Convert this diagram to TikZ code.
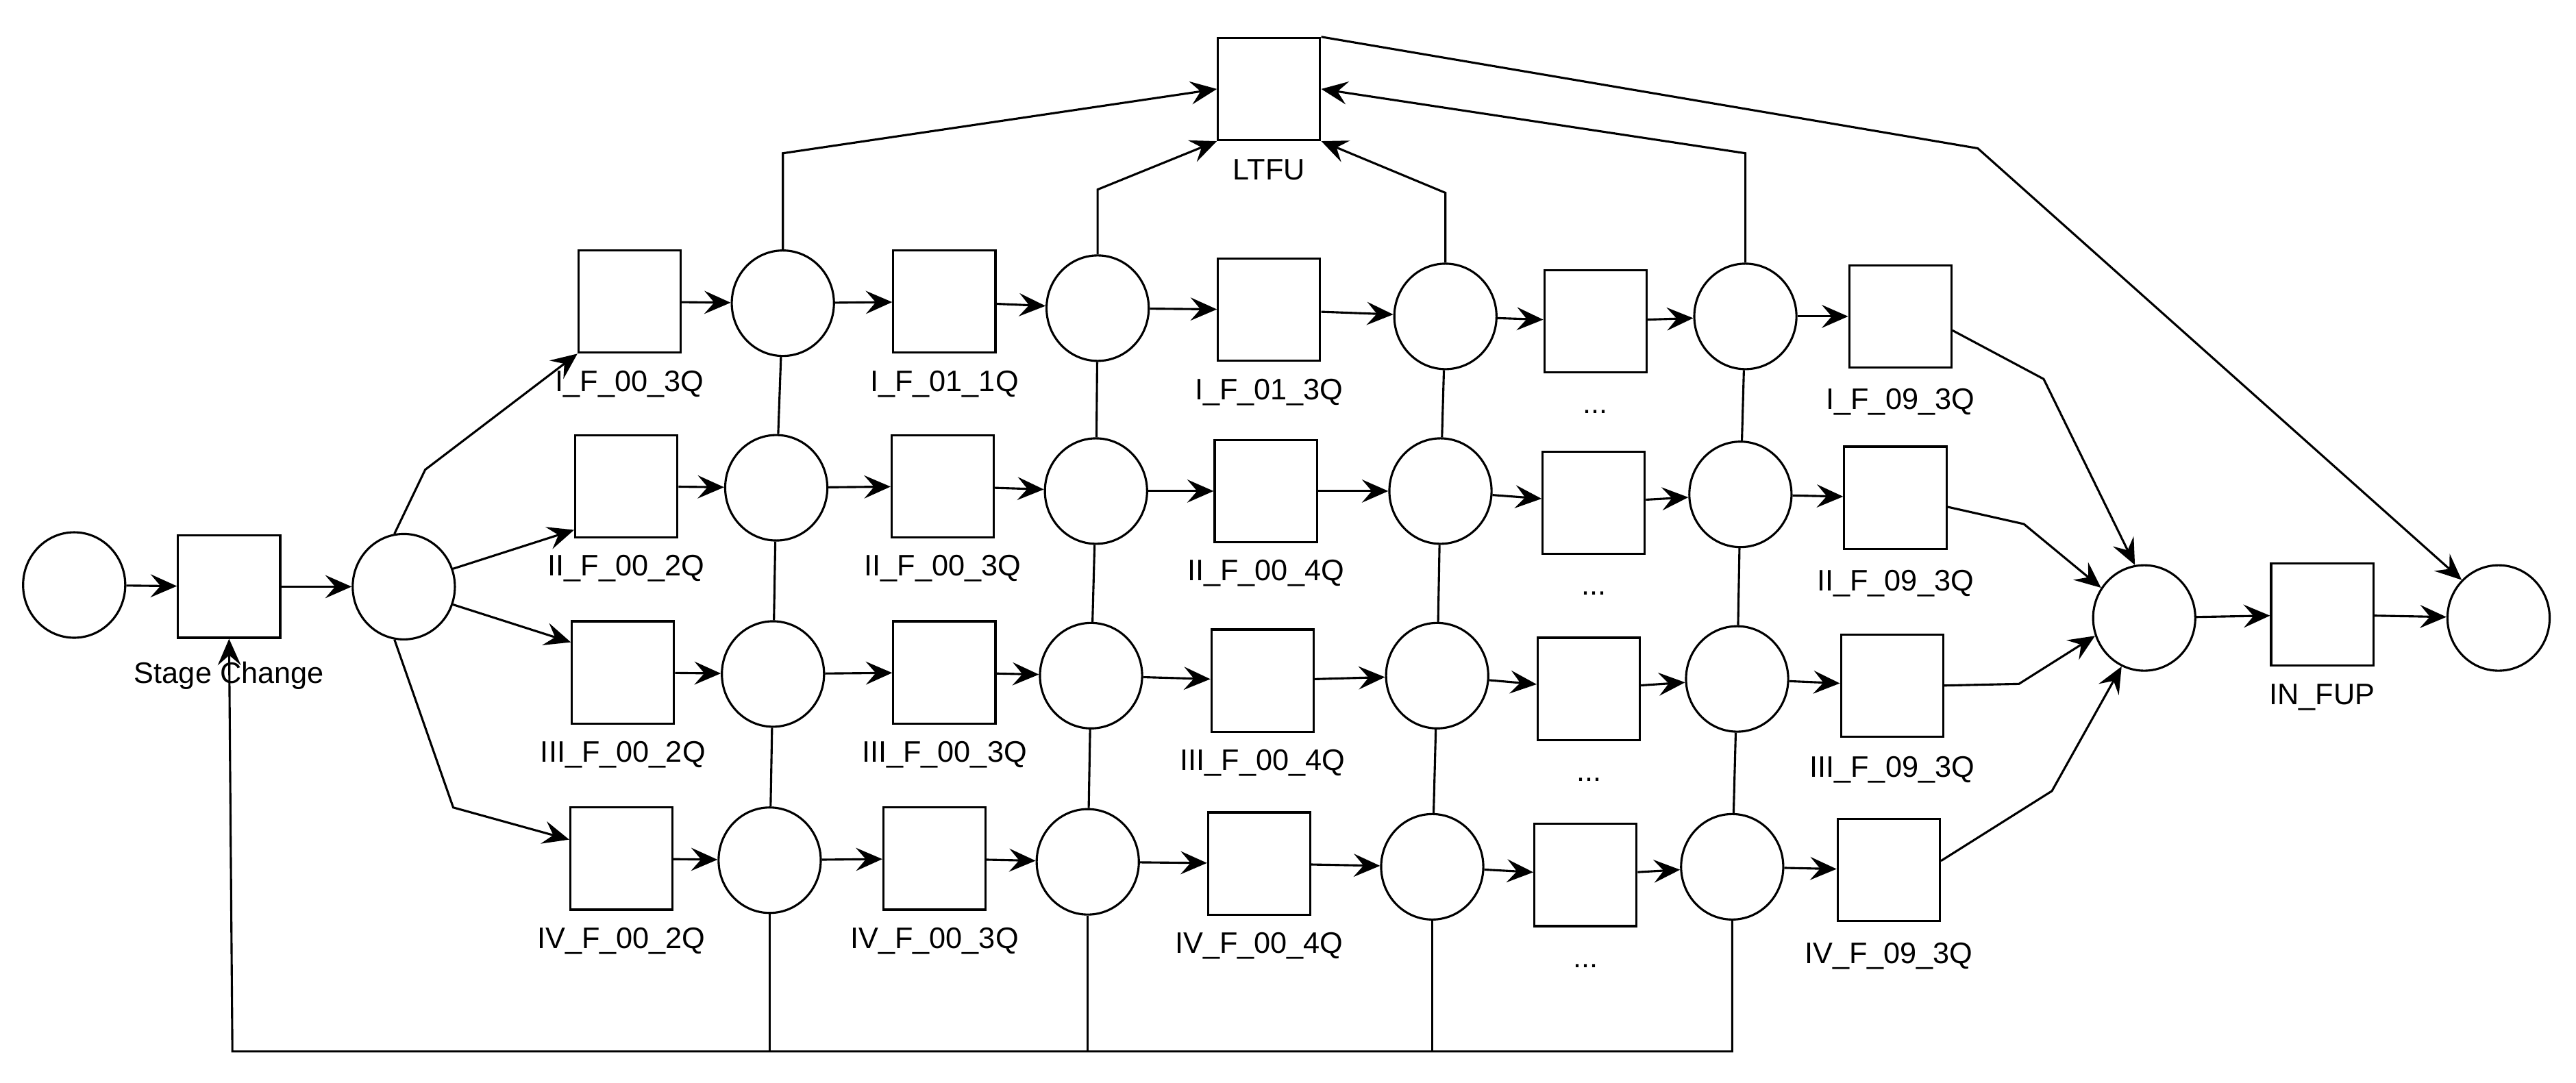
\documentclass[tikz,border=0pt]{standalone}
\usepackage{fontspec}
\setmainfont{Liberation Sans}
\usetikzlibrary{arrows.meta,shapes.geometric}
\begin{document}
\begin{tikzpicture}[x=1pt,y=-1pt,
  tr/.style={draw,line width=1.3pt,minimum width=62pt,minimum height=62pt,inner sep=0pt},
  pl/.style={draw,ellipse,line width=1.3pt,minimum width=62pt,minimum height=64pt,inner sep=0pt},
  lb/.style={font=\fontsize{18}{20}\selectfont},
  ar/.style={line width=1.3pt,-{Stealth[length=16pt,width=14pt,inset=6pt]}},
  ln/.style={line width=1.3pt}]
\useasboundingbox (0,0) rectangle (1563,657);
% start
\node[pl] (s) at (45,355) {};
\node[tr] (sc) at (139,356) {};
\node[lb] at (139,410) {Stage Change};
\node[pl] (p1) at (245,356) {};
% column 1 transitions
\node[tr] (a1) at (382,183) {}; \node[lb] at (382,233) {I\_F\_00\_3Q};
\node[tr] (a2) at (380,295) {}; \node[lb] at (380,345) {II\_F\_00\_2Q};
\node[tr] (a3) at (378,408) {}; \node[lb] at (378,458) {III\_F\_00\_2Q};
\node[tr] (a4) at (377,521) {}; \node[lb] at (377,571) {IV\_F\_00\_2Q};
\node[pl] (b1) at (475,184) {};
\node[pl] (b2) at (471,296) {};
\node[pl] (b3) at (469,409) {};
\node[pl] (b4) at (467,522) {};
\node[tr] (c1) at (573,183) {}; \node[lb] at (573,233) {I\_F\_01\_1Q};
\node[tr] (c2) at (572,295) {}; \node[lb] at (572,345) {II\_F\_00\_3Q};
\node[tr] (c3) at (573,408) {}; \node[lb] at (573,458) {III\_F\_00\_3Q};
\node[tr] (c4) at (567,521) {}; \node[lb] at (567,571) {IV\_F\_00\_3Q};
\node[pl] (d1) at (666,187) {};
\node[pl] (d2) at (665,298) {};
\node[pl] (d3) at (662,410) {};
\node[pl] (d4) at (660,523) {};
\node[tr] (e1) at (770,188) {}; \node[lb] at (770,238) {I\_F\_01\_3Q};
\node[tr] (e2) at (768,298) {}; \node[lb] at (768,348) {II\_F\_00\_4Q};
\node[tr] (e3) at (766,413) {}; \node[lb] at (766,463) {III\_F\_00\_4Q};
\node[tr] (e4) at (764,524) {}; \node[lb] at (764,574) {IV\_F\_00\_4Q};
\node[pl] (f1) at (877,192) {};
\node[pl] (f2) at (874,298) {};
\node[pl] (f3) at (872,410) {};
\node[pl] (f4) at (869,526) {};
\node[tr] (g1) at (968,195) {}; \node[lb] at (968,250) {...};
\node[tr] (g2) at (967,305) {}; \node[lb] at (967,360) {...};
\node[tr] (g3) at (964,418) {}; \node[lb] at (964,473) {...};
\node[tr] (g4) at (962,531) {}; \node[lb] at (962,586) {...};
\node[pl] (h1) at (1059,192) {};
\node[pl] (h2) at (1056,300) {};
\node[pl] (h3) at (1054,412) {};
\node[pl] (h4) at (1051,526) {};
\node[tr] (k1) at (1153,192) {}; \node[lb] at (1153,244) {I\_F\_09\_3Q};
\node[tr] (k2) at (1150,302) {}; \node[lb] at (1150,354) {II\_F\_09\_3Q};
\node[tr] (k3) at (1148,416) {}; \node[lb] at (1148,467) {III\_F\_09\_3Q};
\node[tr] (k4) at (1146,528) {}; \node[lb] at (1146,580) {IV\_F\_09\_3Q};
\node[pl] (m) at (1301,375) {};
\node[tr] (inf) at (1409,373) {}; \node[lb] at (1409,423) {IN\_FUP};
\node[pl] (e) at (1516,375) {};
\node[tr] (lt) at (770,54) {}; \node[lb] at (770,103) {LTFU};
% main arrows
\draw[ar] (s) -- (sc);
\draw[ar] (sc) -- (p1);
\draw[ar] (p1.100) -- (258,285) -- (a1.south west);
\draw[ar] (p1.20) -- (a2.220);
\draw[ar] (p1.-20) -- (a3.150);
\draw[ar] (p1.-100) -- (275,490) -- (a4.160);
\foreach \i in {1,2,3,4}{
  \draw[ar] (a\i) -- (b\i);
  \draw[ar] (b\i) -- (c\i);
  \draw[ar] (c\i) -- (d\i);
  \draw[ar] (d\i) -- (e\i);
  \draw[ar] (e\i) -- (f\i);
  \draw[ar] (f\i) -- (g\i);
  \draw[ar] (g\i) -- (h\i);
  \draw[ar] (h\i) -- (k\i);
}
% vertical links
\draw[ln] (b1) -- (b2); \draw[ln] (b2) -- (b3); \draw[ln] (b3) -- (b4);
\draw[ln] (d1) -- (d2); \draw[ln] (d2) -- (d3); \draw[ln] (d3) -- (d4);
\draw[ln] (f1) -- (f2); \draw[ln] (f2) -- (f3); \draw[ln] (f3) -- (f4);
\draw[ln] (h1) -- (h2); \draw[ln] (h2) -- (h3); \draw[ln] (h3) -- (h4);
% bottom loop
\coordinate (bl) at (141,638);
\draw[ln] (b4) -- (b4 |- bl);
\draw[ln] (d4) -- (d4 |- bl);
\draw[ln] (f4) -- (f4 |- bl);
\draw[ar] (h4) -- (h4 |- bl) -- (bl) -- (sc.south);
% to LTFU
\draw[ar] (b1) -- (b1 |- 0,93) -- (lt.west);
\draw[ar] (d1) -- (d1 |- 0,115) -- (lt.south west);
\draw[ar] (f1) -- (f1 |- 0,117) -- (lt.south east);
\draw[ar] (h1) -- (h1 |- 0,93) -- (lt.east);
\draw[ar] (lt.north east) -- (1200,90) -- (e.north west);
% merge
\draw[ar] (k1.-15) -- (1240,230) -- (m.100);
\draw[ar] (k2.-10) -- (1228,318) -- (m.145);
\draw[ar] (k3.0) -- (1225,415) -- (m.200);
\draw[ar] (k4.10) -- (1245,480) -- (m.245);
\draw[ar] (m) -- (inf);
\draw[ar] (inf) -- (e);
\end{tikzpicture}
\end{document}
